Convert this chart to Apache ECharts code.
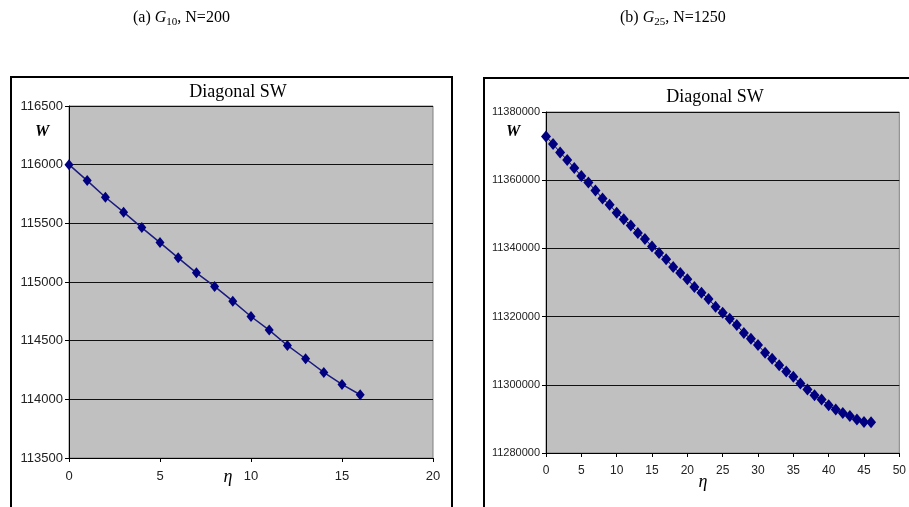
<!DOCTYPE html>
<html><head><meta charset="utf-8">
<script src="https://cdn.jsdelivr.net/npm/echarts@6/dist/echarts.min.js"></script>
<style>html,body{margin:0;padding:0;background:#fff}#c{width:909px;height:507px}</style>
</head><body><div id="c"></div>
<script>
// Panel (a) G10, N=200
const etaA = [0,1,2,3,4,5,6,7,8,9,10,11,12,13,14,15,16];
const wA = [116000,115864,115722,115595,115464,115336,115206,115078,114962,114837,114706,114590,114459,114346,114229,114127,114039];
// Panel (b) G25, N=1250
const etaB = [0,1,2,3,4,5,6,7,8,9,10,11,12,13,14,15,16,17,18,19,20,21,22,23,24,25,26,27,28,29,30,31,32,33,34,35,36,37,38,39,40,41,42,43,44,45,46];
const wB = [11372850,11370600,11368150,11365900,11363550,11361200,11359330,11356980,11354630,11352770,11350420,11348560,11346700,11344550,11342780,11340530,11338670,11336810,11334550,11332790,11330930,11328680,11327010,11325150,11322900,11321140,11319370,11317510,11315160,11313500,11311640,11309380,11307620,11305760,11303900,11302330,11300370,11298610,11296940,11295670,11294010,11292730,11291750,11290870,11289790,11289110,11289000];
const chartTitle = 'Diagonal SW';
const captionA = ['(a) ', 'G', '10', ', N=200'];
const captionB = ['(b) ', 'G', '25', ', N=1250'];

const chart = echarts.init(document.getElementById('c'), null, {renderer:'canvas'});
const narrow = '"Liberation Sans Narrow", "Arial Narrow", "Liberation Sans", sans-serif';
const serif = '"Liberation Serif", "Times New Roman", serif';
const mctx = document.createElement('canvas').getContext('2d');
function tw(text, font) { mctx.font = font; return mctx.measureText(text).width; }

function yAx(idx, min, max, interval, fs) {
  return {
    type:'value', gridIndex:idx, min:min, max:max, interval:interval,
    axisLine:{show:true, lineStyle:{color:'#000', width:1}},
    axisTick:{show:true, length:4, lineStyle:{color:'#000'}},
    axisLabel:{color:'#222', fontFamily:narrow, fontSize:fs, margin:6, formatter:v=>String(v)},
    splitLine:{show:true, lineStyle:{color:'#111', width:1}}
  };
}
function xAx(idx, max, fs) {
  return {
    type:'value', gridIndex:idx, min:0, max:max, interval:5,
    axisLine:{show:true, onZero:false, lineStyle:{color:'#000', width:1}},
    axisTick:{show:true, length:4, lineStyle:{color:'#000'}},
    axisLabel:{color:'#222', fontFamily:narrow, fontSize:fs, margin:12, formatter:v=>String(v)},
    splitLine:{show:false}
  };
}
function caption(parts, x0, y) {
  const fonts = ['16px '+serif, 'italic 16px '+serif, '11px '+serif, '16px '+serif];
  const dy = [0, 0, 4, 0];
  const els = [];
  let x = x0;
  parts.forEach((p, i) => {
    els.push({type:'text', x:x, y:y+dy[i], style:{text:p, font:fonts[i], fill:'#000', align:'left', verticalAlign:'middle'}});
    x += tw(p, fonts[i]);
  });
  return els;
}
const option = {
  animation:false,
  backgroundColor:'#fff',
  grid:[
    {left:69, top:106, width:364, height:352, show:true, backgroundColor:'#c0c0c0', borderColor:'#808080', borderWidth:1},
    {left:546, top:112, width:357, height:341, show:true, backgroundColor:'#c0c0c0', borderColor:'#808080', borderWidth:1}
  ],
  xAxis:[xAx(0,20,13), xAx(1,50,12)],
  yAxis:[yAx(0,113500,116500,500,13), yAx(1,11280000,11380000,20000,11)],
  series:[
    {type:'line', xAxisIndex:0, yAxisIndex:0, data:etaA.map((e,i)=>[e,wA[i]]),
     lineStyle:{color:'#1a1a80', width:1.5}, symbol:'diamond', symbolSize:[9,11],
     itemStyle:{color:'#000080'}},
    {type:'line', xAxisIndex:1, yAxisIndex:1, data:etaB.map((e,i)=>[e,wB[i]]),
     lineStyle:{color:'#000080', width:1}, symbol:'diamond', symbolSize:[10,12],
     itemStyle:{color:'#000080'}}
  ],
  graphic:[].concat(
    caption(captionA, 133, 18),
    caption(captionB, 620, 18),
    [
    {type:'rect', shape:{x:11, y:77, width:441, height:440}, style:{fill:'none', stroke:'#000', lineWidth:2}},
    {type:'rect', shape:{x:484, y:78, width:440, height:440}, style:{fill:'none', stroke:'#000', lineWidth:2}},
    {type:'text', x:238, y:92, style:{text:chartTitle, font:'18px '+serif, fill:'#000', align:'center', verticalAlign:'middle'}},
    {type:'text', x:715, y:97, style:{text:chartTitle, font:'18px '+serif, fill:'#000', align:'center', verticalAlign:'middle'}},
    {type:'text', x:42, y:132, style:{text:'W', font:'italic bold 16px '+serif, fill:'#000', align:'center', verticalAlign:'middle'}},
    {type:'text', x:513, y:132, style:{text:'W', font:'italic bold 16px '+serif, fill:'#000', align:'center', verticalAlign:'middle'}},
    {type:'text', x:228, y:477, style:{text:'η', font:'italic 18px '+serif, fill:'#000', align:'center', verticalAlign:'middle'}},
    {type:'text', x:703, y:482, style:{text:'η', font:'italic 18px '+serif, fill:'#000', align:'center', verticalAlign:'middle'}}
    ]
  )
};
chart.setOption(option);
</script></body></html>
